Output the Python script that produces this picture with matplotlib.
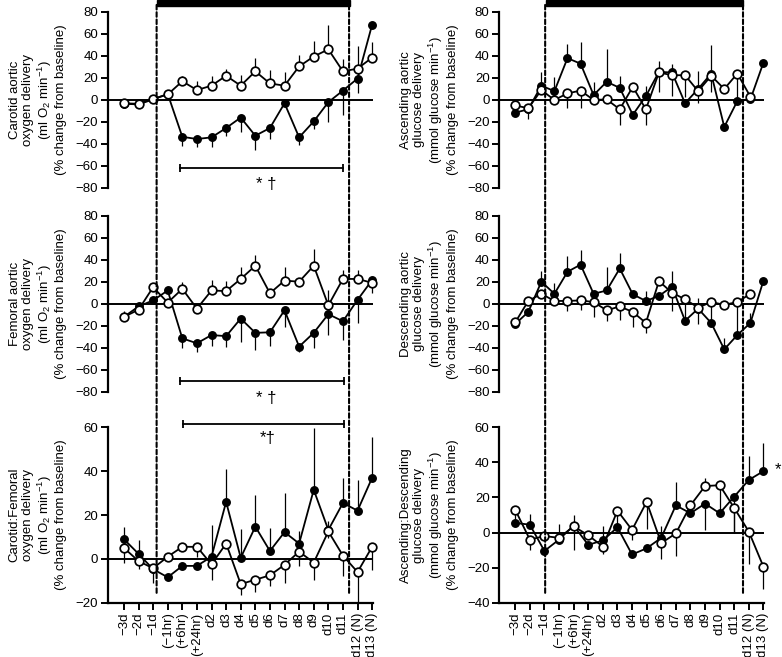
import numpy as np
import matplotlib
matplotlib.use("Agg")
import matplotlib.pyplot as plt
from matplotlib.patches import Rectangle, ConnectionPatch

plt.rcParams['font.family'] = ['Liberation Sans', 'DejaVu Sans']
plt.rcParams['mathtext.default'] = 'regular'
plt.rcParams['font.size'] = 9

# ---------------- data ----------------
time_labels = ['\u22123d', '\u22122d', '\u22121d', '(\u22121hr)', '(+6hr)', '(+24hr)',
               'd2', 'd3', 'd4', 'd5', 'd6', 'd7', 'd8', 'd9', 'd10', 'd11',
               'd12 (N)', 'd13 (N)']

# Carotid aortic oxygen delivery (filled / open) and signed error extents
ca_filled = [-3.5, -4, 0.5, 5.5, -33.5, -35.5, -34, -25.5, -16, -32.5, -25.5, -3, -34, -19.5, -2, 8.5, 19.5, 68.5]
ca_filled_err = [4, 0, 0, 0, -8, -7.5, -9, -7, -13.5, -13, -10, 0, -7, -7, -18, -22, -13, 0]
ca_open = [-3, -3.5, 1, 5, 17, 9, 13, 22, 13, 26, 15, 13, 30.5, 39.5, 46, 26, 28.5, 38.5]
ca_open_err = [0, 0, 0, 0, 5, 8.5, 8.5, 6, 10, 12.5, 12.5, 12, 10, 14, 22, 11.5, 21, 14.5]

# Femoral aortic oxygen delivery
fa_filled = [-12, -2.5, 3, 12, -31.5, -36, -28.5, -29.5, -13.5, -26.5, -26, -6, -39, -26.5, -9.5, -16, 3.5, 21.5]
fa_filled_err = [5, 0, 0, 0, -8.5, -7.5, -10, -10, -21, -16, -12, -15, -5, -14, -19, -17, -21, -6]
fa_open = [-12, -5.5, 15, 1, 13.5, -4.5, 12, 11.5, 22.5, 34.5, 9.5, 21, 20, 34.5, -1.5, 22.5, 22.5, 19]
fa_open_err = [0, 0, 0, 0, 6, 0, 9.5, 9, 10.5, 9.5, 0, 12, 0, 15, 14, 8, 8.5, -9]

# Carotid:Femoral oxygen delivery
cf_filled = [9, 2.3, -4.7, -8.4, -3.2, -3.2, 1, 26, 0.5, 14.7, 3.6, 12.2, 7, 31.5, 13.2, 25.5, 22, 37]
cf_filled_err = [5.5, 6.5, -6.5, 0, 0, 0, 14.5, 15, 13, 14.5, 10.5, 18, 5.5, 28, 4, 11.5, 14, 18.5]
cf_open = [5, -1, -4.3, 1, 5.5, 5.5, -2.5, 7, -11.5, -9.5, -7.5, -2.7, 3.3, -1.7, 12.5, 1.5, -6, 5.5]
cf_open_err = [-7, -3.5, 0, 0, 0, -4.5, -7, 0, -5, -5.5, -5, -8.5, -6.5, -8, -3, -9.5, -14, -10.5]

# Ascending aortic glucose delivery (20 sampling points)
ag_filled = [-11.5, -8.5, 13, 8, 38, 33, 4.5, 16.5, 11, -13.5, 3.5, 25.5, 25, -3, 10, 24, -24.5, -1, 0.5, 34]
ag_filled_err = [0, 0, 12.5, 13, 13, 20, 11.5, 29.5, 10.5, 0, 9, 10, 7.5, 0, 16.5, 26, 0, 0, 0, 0]
ag_open = [-5, -7.5, 9, 0, 6, 8.5, 0, 0.5, -8.5, 12, -8.5, 25, 22.5, 22.5, 8, 22, 10, 24, 3, np.nan]
ag_open_err = [0, -10, 0, 0, -13.5, -16, 0, 0, -14.5, 0, -14.5, -18, -19, -20, -11, -15, 0, -24, 0, np.nan]

# Descending aortic glucose delivery (20 sampling points)
dg_filled = [-18.5, -7.5, 20, 9, 29, 35.5, 9, 12, 32, 8.5, 2.5, 7, 15.5, -15.5, -4.5, -17.5, -41.5, -28.5, -17.5, 21]
dg_filled_err = [0, 0, 9.5, 10, 14.5, 13.5, 0, 21, 14.5, 0, 9, 0, 14.5, 0, 10, 0, 10.5, 0, 9, 0]
dg_open = [-17, 2.5, 9, 2.5, 2.5, 3, 1.5, -6, -2.5, -7.5, -17.5, 20.5, 10, 4, -3.5, 1.5, -1, 1.5, 9, np.nan]
dg_open_err = [0, 0, 0, 0, -9, -9, -13.5, -10, -12.5, -13.5, -9, 0, -16.5, -20, -15, -19, 0, -28, 0, np.nan]

# Ascending:Descending glucose delivery
ad_filled = [5.5, 4.5, -10.5, -4, 4, -7, -4.5, 3, -12.5, -9, -3, 15.5, 11, 16.5, 11, 20.5, 30, 35]
ad_filled_err = [0, 6, 0, 9, 6, 0, 8, 0, 0, 0, 7, 13.5, 4.5, -15, 0, -21, 13.5, 16]
ad_open = [13, -4, -2, -3, 3.5, -1.5, -8, 12.5, 1.5, 17.5, -6, -0.5, 15.5, 26.5, 27, 14, 0.5, -19.5]
ad_open_err = [-7, -6, 0, 0, -13.5, 0, -4.5, -9.5, -5.5, -15.5, -9, -13, 0, 4.5, -16, -14, -18.5, -12.5]

ylabels = {
    'ca': 'Carotid aortic\noxygen delivery\n(ml O$_2$ min$^{-1}$)\n(% change from baseline)',
    'fa': 'Femoral aortic\noxygen delivery\n(ml O$_2$ min$^{-1}$)\n(% change from baseline)',
    'cf': 'Carotid:Femoral\noxygen delivery\n(ml O$_2$ min$^{-1}$)\n(% change from baseline)',
    'ag': 'Ascending aortic\nglucose delivery\n(mmol glucose min$^{-1}$)\n(% change from baseline)',
    'dg': 'Descending aortic\nglucose delivery\n(mmol glucose min$^{-1}$)\n(% change from baseline)',
    'ad': 'Ascending:Descending\nglucose delivery\n(mmol glucose min$^{-1}$)\n(% change from baseline)',
}

# ---------------- figure ----------------
fig = plt.figure(figsize=(7.82, 6.57), dpi=100)

lx, rx, w = 0.1381, 0.6385, 0.3389
rows = [(0.7139, 0.2679), (0.4038, 0.2679), (0.0826, 0.2670)]

x18 = np.arange(len(time_labels))
x20 = np.linspace(0, len(time_labels) - 1, 20)
XLIM = (-1.09, 17.06)


def style(ax, ylim, yticks, bottom):
    ax.set_xlim(*XLIM)
    ax.set_ylim(*ylim)
    ax.set_yticks(yticks)
    for s in ['top', 'right']:
        ax.spines[s].set_visible(False)
    ax.spines['left'].set_linewidth(1.6)
    ax.tick_params(axis='y', direction='out', length=5, width=1.4, labelsize=9.5, pad=2)
    ax.axhline(0, color='black', lw=1.4, zorder=1)
    if bottom:
        ax.spines['bottom'].set_linewidth(1.6)
        ax.set_xticks(x18)
        ax.set_xticklabels(time_labels, rotation=90, fontsize=9.5)
        ax.tick_params(axis='x', direction='out', length=5, width=1.4, pad=2)
    else:
        ax.spines['bottom'].set_visible(False)
        ax.set_xticks([])


def series(ax, x, vals, errs, filled):
    vals = np.asarray(vals, float)
    errs = np.asarray(errs, float)
    ax.vlines(x, vals, vals + errs, color='black', lw=0.9, zorder=2, clip_on=False)
    if filled:
        ax.plot(x, vals, '-o', color='black', lw=1.3, ms=5.4, zorder=3, clip_on=False)
    else:
        ax.plot(x, vals, '-o', color='black', lw=1.3, ms=6.2, mfc='white', mec='black',
                mew=1.25, zorder=4, clip_on=False)


panels = [
    ('ca', lx, 0, x18, ca_filled, ca_filled_err, ca_open, ca_open_err, (-80, 80), range(-80, 81, 20)),
    ('fa', lx, 1, x18, fa_filled, fa_filled_err, fa_open, fa_open_err, (-80, 80), range(-80, 81, 20)),
    ('cf', lx, 2, x18, cf_filled, cf_filled_err, cf_open, cf_open_err, (-20, 60), range(-20, 61, 20)),
    ('ag', rx, 0, x20, ag_filled, ag_filled_err, ag_open, ag_open_err, (-80, 80), range(-80, 81, 20)),
    ('dg', rx, 1, x20, dg_filled, dg_filled_err, dg_open, dg_open_err, (-80, 80), range(-80, 81, 20)),
    ('ad', rx, 2, x18, ad_filled, ad_filled_err, ad_open, ad_open_err, (-40, 60), range(-40, 61, 20)),
]

axes = {}
for key, x0, r, xs, f, fe, o, oe, ylim, yt in panels:
    b, h = rows[r]
    ax = fig.add_axes([x0, b, w, h])
    style(ax, ylim, list(yt), r == 2)
    series(ax, xs, f, fe, True)
    series(ax, xs, o, oe, False)
    ax.set_ylabel(ylabels[key], fontsize=9.5, linespacing=1.15, labelpad=6)
    axes[key] = ax

# treatment bar and dashed lines
dash_pos = {'left': (2.24, 15.42), 'right': (2.05, 15.6)}
bar_pos = {'left': (2.24, 15.47), 'right': (2.1, 15.6)}
for side, top, bot, yb in [('left', 'ca', 'cf', -16.3), ('right', 'ag', 'ad', -35)]:
    axt, axb = axes[top], axes[bot]
    b0, b1 = bar_pos[side]
    axt.add_patch(Rectangle((b0, 1.034), b1 - b0, 0.036, transform=axt.get_xaxis_transform(),
                            color='black', clip_on=False, zorder=5))
    for xd in dash_pos[side]:
        con = ConnectionPatch(xyA=(xd, 1.04), coordsA=axt.get_xaxis_transform(),
                              xyB=(xd, yb), coordsB=axb.transData,
                              color='black', lw=1.5, linestyle=(0, (2.2, 1.3)))
        fig.add_artist(con)

# significance brackets
brackets = [('ca', 3.85, 15.0, -62, -77, '* \u2020'),
            ('fa', 3.85, 15.07, -70, -86, '* \u2020'),
            ('cf', 4.05, 15.07, 61.5, 55, '*\u2020')]
for key, xa, xb, yv, yt_, txt in brackets:
    ax = axes[key]
    cap = 3.5 if key != 'cf' else 1.8
    ax.plot([xa, xb], [yv, yv], color='black', lw=1.3, clip_on=False, zorder=5)
    ax.vlines([xa, xb], yv - cap, yv + cap, color='black', lw=1.3, clip_on=False, zorder=5)
    ax.text((xa + xb) / 2 + 0.3, yt_, txt, ha='center', va='center', fontsize=12, clip_on=False)

axes['ad'].text(18.0, 36, '*', ha='center', va='center', fontsize=12, clip_on=False)

fig.savefig('out.png', dpi=100)
